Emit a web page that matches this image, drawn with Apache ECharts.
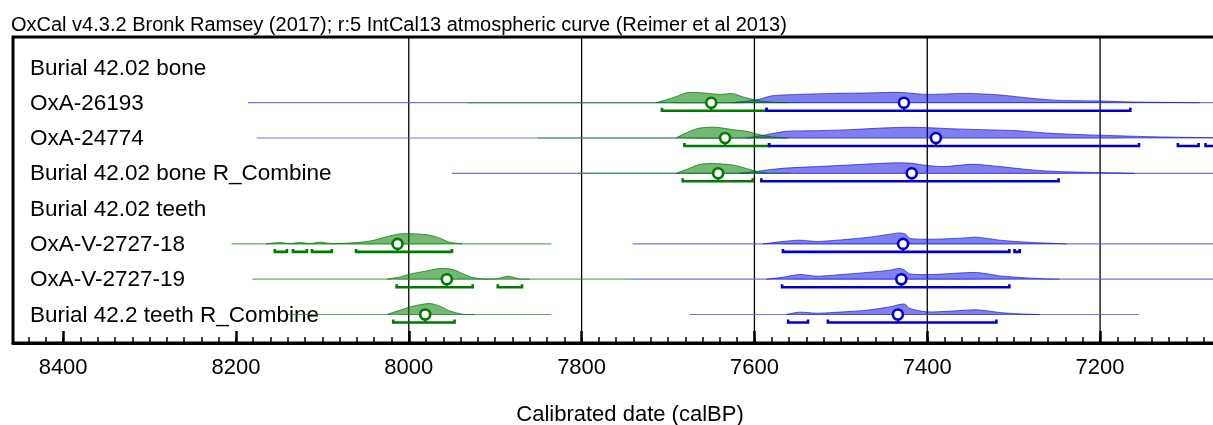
<!DOCTYPE html>
<html><head><meta charset="utf-8">
<script src="https://cdn.jsdelivr.net/npm/echarts@6/dist/echarts.min.js"></script>
<style>html,body{margin:0;padding:0;background:#fff}#c{width:1213px;height:425px}</style>
</head><body><div id="c"></div>
<script>
// ---------------- data ----------------
const titleText = 'OxCal v4.3.2 Bronk Ramsey (2017); r:5 IntCal13 atmospheric curve (Reimer et al 2013)';
const axisTitle = 'Calibrated date (calBP)';
const rowLabels = ['Burial 42.02 bone', 'OxA-26193', 'OxA-24774', 'Burial 42.02 bone R_Combine',
  'Burial 42.02 teeth', 'OxA-V-2727-18', 'OxA-V-2727-19', 'Burial 42.2 teeth R_Combine'];
const yearMin = 7030, yearMax = 8458;
const majorTicks = [8400, 8200, 8000, 7800, 7600, 7400, 7200];
const gridYears = [8000, 7800, 7600, 7400, 7200];
const minorTicks = [];
for (let y = 8440; y >= 7040; y -= 20) minorTicks.push(y);

// density curves [year, relative height]
const gOxA26193 = [[7713,0],[7694,5],[7678,10],[7663,10],[7640,8.3],[7625,9],[7613,5.7],[7597,2.3],[7579,0.5],[7548,0]];
const bOxA26193 = [[7625,0],[7597,3],[7579,7],[7548,8.3],[7509,9.3],[7470,9.7],[7432,10.3],[7401,8.3],[7354,9.3],[7316,7.7],[7278,4.3],[7247,2.3],[7200,1.7],[7162,0.7],[7123,0.3],[7085,0]];
const gOxA24774 = [[7690,0],[7675,6.7],[7663,10],[7644,10.7],[7625,8.3],[7609,6.7],[7594,3.3],[7579,1],[7563,0]];
const bOxA24774 = [[7609,0],[7586,3.3],[7563,6.7],[7528,7.3],[7490,8.3],[7451,10],[7420,10.7],[7390,10],[7374,9.3],[7336,8.3],[7296,7.3],[7258,4.7],[7220,3.3],[7181,2.3],[7143,1.3],[7104,0.7],[7070,0.3],[7040,0]];
const gBoneComb = [[7690,0],[7675,5],[7663,9],[7648,9.7],[7625,8.3],[7613,5.7],[7597,1.7],[7586,0]];
const bBoneComb = [[7617,0],[7594,2.3],[7567,5],[7528,6.7],[7490,8.3],[7451,10],[7432,10.5],[7418,10],[7405,8.3],[7382,6.7],[7347,9],[7316,6.7],[7278,3.3],[7247,1.7],[7200,0.7],[7160,0]];
const gV18 = [[8165,0],[8149,1.3],[8137,0.3],[8126,1.3],[8114,0.3],[8103,1.7],[8088,0.3],[8060,1.3],[8042,3.3],[8025,7.3],[8010,10],[7991,10],[7976,8.7],[7964,5.7],[7953,1.7],[7938,0]];
const bV18 = [[7590,0],[7567,2.4],[7548,3.7],[7528,2.4],[7509,3.4],[7470,6.4],[7443,9.7],[7432,11],[7425,9.7],[7420,5.5],[7394,4.7],[7362,5.7],[7343,6.7],[7316,3.7],[7285,1.7],[7258,0.7],[7239,0]];
const gV19 = [[8025,0],[8010,2.3],[7999,5],[7979,8.3],[7964,10.7],[7949,9.7],[7938,5.7],[7926,1.7],[7914,0.3],[7898,0.5],[7885,3],[7872,0.3],[7860,0]];
const bV19 = [[7586,0],[7567,2],[7548,4.7],[7528,3],[7509,4],[7470,6.7],[7443,9],[7434,10.7],[7428,10],[7420,5.3],[7394,4.7],[7343,6.7],[7316,3.3],[7285,1.3],[7262,0.3],[7247,0]];
const gTeethComb = [[8025,0],[8010,4.3],[7995,8.3],[7976,11],[7964,8.3],[7953,3.7],[7938,0.3],[7924,0]];
const bTeethComb = [[7563,0],[7548,2.3],[7528,1.3],[7509,2],[7470,4.3],[7443,7.7],[7432,10],[7426,10.3],[7420,6],[7401,2.7],[7374,3.3],[7343,4.7],[7316,2],[7296,0.7],[7270,0]];

const greenDistRows = [1, 2, 3, 5, 6, 7];
const greenDists = [gOxA26193, gOxA24774, gBoneComb, gV18, gV19, gTeethComb];
const blueDistRows = [1, 2, 3, 5, 6, 7];
const blueDists = [bOxA26193, bOxA24774, bBoneComb, bV18, bV19, bTeethComb];

// thin lines [row, from, to]
const greenLines = [[1,7932,7560],[2,7851,7560],[3,7804,7560],[5,8205,7835],[6,8181,7745],[7,8140,7835]];
const blueLines = [[1,8186,7030],[2,8176,7030],[3,7950,7030],[5,7741,7030],[6,7745,7030],[7,7675,7155]];
// probability ranges [row, from, to]
const greenRanges = [[1,7707,7586],[2,7681,7583],[3,7683,7602],[5,8155,8141],[5,8134,8118],[5,8112,8089],[5,8061,7950],[6,8014,7926],[6,7897,7869],[7,8018,7947]];
const blueRanges = [[1,7586,7165],[2,7583,7155],[2,7110,7086],[2,7078,7030],[3,7592,7248],[5,7567,7305],[5,7299,7293],[6,7568,7305],[7,7561,7538],[7,7515,7320]];
// point estimates [row, year]
const greenPoints = [[1,7650],[2,7634],[3,7642],[5,8013],[6,7956],[7,7981]];
const bluePoints = [[1,7427],[2,7390],[3,7418],[5,7428],[6,7430],[7,7434]];

// ---------------- styles ----------------
const FONT = '"Liberation Sans", Arial, Helvetica, sans-serif';
const GREEN = '#007a00', BLUE = '#0000cc';
const GREEN_FILL = 'rgba(0,128,0,0.55)', BLUE_FILL = 'rgba(0,0,225,0.5)';
const GREEN_EDGE = 'rgba(0,110,0,0.7)', BLUE_EDGE = 'rgba(0,0,200,0.6)';
const GREEN_THIN = 'rgba(40,150,40,0.75)', BLUE_THIN = 'rgba(90,90,235,0.85)';
const yMin = -0.861, yMax = 7.808;
const BAR_OFF = 8;

function distSeries(rows, dists, fill, edge) {
  return {
    type: 'custom', xAxisIndex: 0, yAxisIndex: 0, silent: true,
    data: rows.map((r, i) => [dists[i][0][0], r]),
    renderItem: function (params, api) {
      const i = params.dataIndex;
      const row = rows[i];
      const pts = dists[i].map(p => { const c = api.coord([p[0], row]); return [c[0], c[1] - p[1]]; });
      return { type: 'group', children: [
        { type: 'polygon', shape: { points: pts, smooth: 0.25 }, style: { fill: fill, stroke: null } },
        { type: 'polyline', shape: { points: pts, smooth: 0.25 }, style: { fill: null, stroke: edge, lineWidth: 1 } }
      ]};
    }
  };
}
function lineSeries(lines, color) {
  return {
    type: 'custom', silent: true, data: lines.map(l => [l[1], l[0]]),
    renderItem: function (params, api) {
      const l = lines[params.dataIndex];
      const a = api.coord([l[1], l[0]]), b = api.coord([l[2], l[0]]);
      return { type: 'line', shape: { x1: a[0], y1: a[1], x2: b[0], y2: b[1] }, style: { stroke: color, lineWidth: 1.2 } };
    }
  };
}
function rangeSeries(ranges, color) {
  return {
    type: 'custom', silent: true, data: ranges.map(l => [l[1], l[0]]),
    renderItem: function (params, api) {
      const l = ranges[params.dataIndex];
      const a = api.coord([l[1], l[0]]), b = api.coord([l[2], l[0]]);
      const y = a[1] + BAR_OFF;
      return { type: 'polyline', shape: { points: [[a[0], y - 3], [a[0], y], [b[0], y], [b[0], y - 3]] },
        style: { fill: null, stroke: color, lineWidth: 2.6 } };
    }
  };
}
function pointSeries(points, color) {
  return {
    type: 'custom', silent: true, data: points.map(p => [p[1], p[0]]),
    renderItem: function (params, api) {
      const p = points[params.dataIndex];
      const c = api.coord([p[1], p[0]]);
      return { type: 'group', children: [
        { type: 'line', shape: { x1: c[0], y1: c[1] + 4, x2: c[0], y2: c[1] + BAR_OFF }, style: { stroke: color, lineWidth: 2 } },
        { type: 'circle', shape: { cx: c[0], cy: c[1], r: 5 }, style: { fill: '#fff', stroke: color, lineWidth: 2.6 } }
      ]};
    }
  };
}

const chart = echarts.init(document.getElementById('c'), null, { renderer: 'canvas' });
chart.setOption({
  animation: false,
  backgroundColor: '#fff',
  title: { text: titleText, left: 11, top: 15, padding: 0,
    textStyle: { fontSize: 20, fontWeight: 'normal', color: '#000', fontFamily: FONT } },
  grid: { left: 13, right: -34, top: 37, bottom: 82, outerBoundsMode: 'none', containLabel: false,
    show: true, borderColor: '#000', borderWidth: 3, backgroundColor: 'transparent' },
  xAxis: [
    { type: 'value', min: yearMin, max: yearMax, inverse: true, position: 'bottom',
      name: axisTitle, nameLocation: 'middle', nameGap: 61,
      nameTextStyle: { fontSize: 22, color: '#000', fontFamily: FONT },
      axisLine: { show: true, onZero: false, lineStyle: { color: '#000', width: 3 } },
      axisTick: { show: true, inside: true, length: 12, customValues: majorTicks, lineStyle: { color: '#000', width: 2.5 } },
      axisLabel: { show: true, customValues: majorTicks, fontSize: 22, color: '#000', fontFamily: FONT, margin: 14,
        formatter: v => String(v) },
      splitLine: { show: false } },
    { type: 'value', min: yearMin, max: yearMax, inverse: true, position: 'bottom',
      axisLine: { show: false, onZero: false },
      axisTick: { show: true, inside: true, length: 6, customValues: minorTicks, lineStyle: { color: '#000', width: 1.5 } },
      axisLabel: { show: false }, splitLine: { show: false } }
  ],
  yAxis: { type: 'value', min: yMin, max: yMax, inverse: true, show: false, splitLine: { show: false } },
  series: [
    { type: 'custom', silent: true, data: gridYears.map(y => [y, 0]),
      renderItem: function (params, api) {
        const y = gridYears[params.dataIndex];
        const a = api.coord([y, yMin]), b = api.coord([y, yMax]);
        return { type: 'line', shape: { x1: a[0], y1: a[1], x2: b[0], y2: b[1] }, style: { stroke: '#000', lineWidth: 1.3 } };
      } },
    { type: 'custom', silent: true, data: rowLabels.map((t, i) => [yearMax, i]),
      renderItem: function (params, api) {
        const c = api.coord([yearMax, params.dataIndex]);
        return { type: 'text', x: params.coordSys.x + 17, y: c[1] + 1,
          style: { text: rowLabels[params.dataIndex], fill: '#000', font: '22.5px ' + FONT, verticalAlign: 'middle', align: 'left' } };
      } },
    lineSeries(blueLines, BLUE_THIN),
    lineSeries(greenLines, GREEN_THIN),
    distSeries(blueDistRows, blueDists, BLUE_FILL, BLUE_EDGE),
    distSeries(greenDistRows, greenDists, GREEN_FILL, GREEN_EDGE),
    rangeSeries(greenRanges, GREEN),
    rangeSeries(blueRanges, BLUE),
    pointSeries(greenPoints, GREEN),
    pointSeries(bluePoints, BLUE)
  ]
});
</script></body></html>
